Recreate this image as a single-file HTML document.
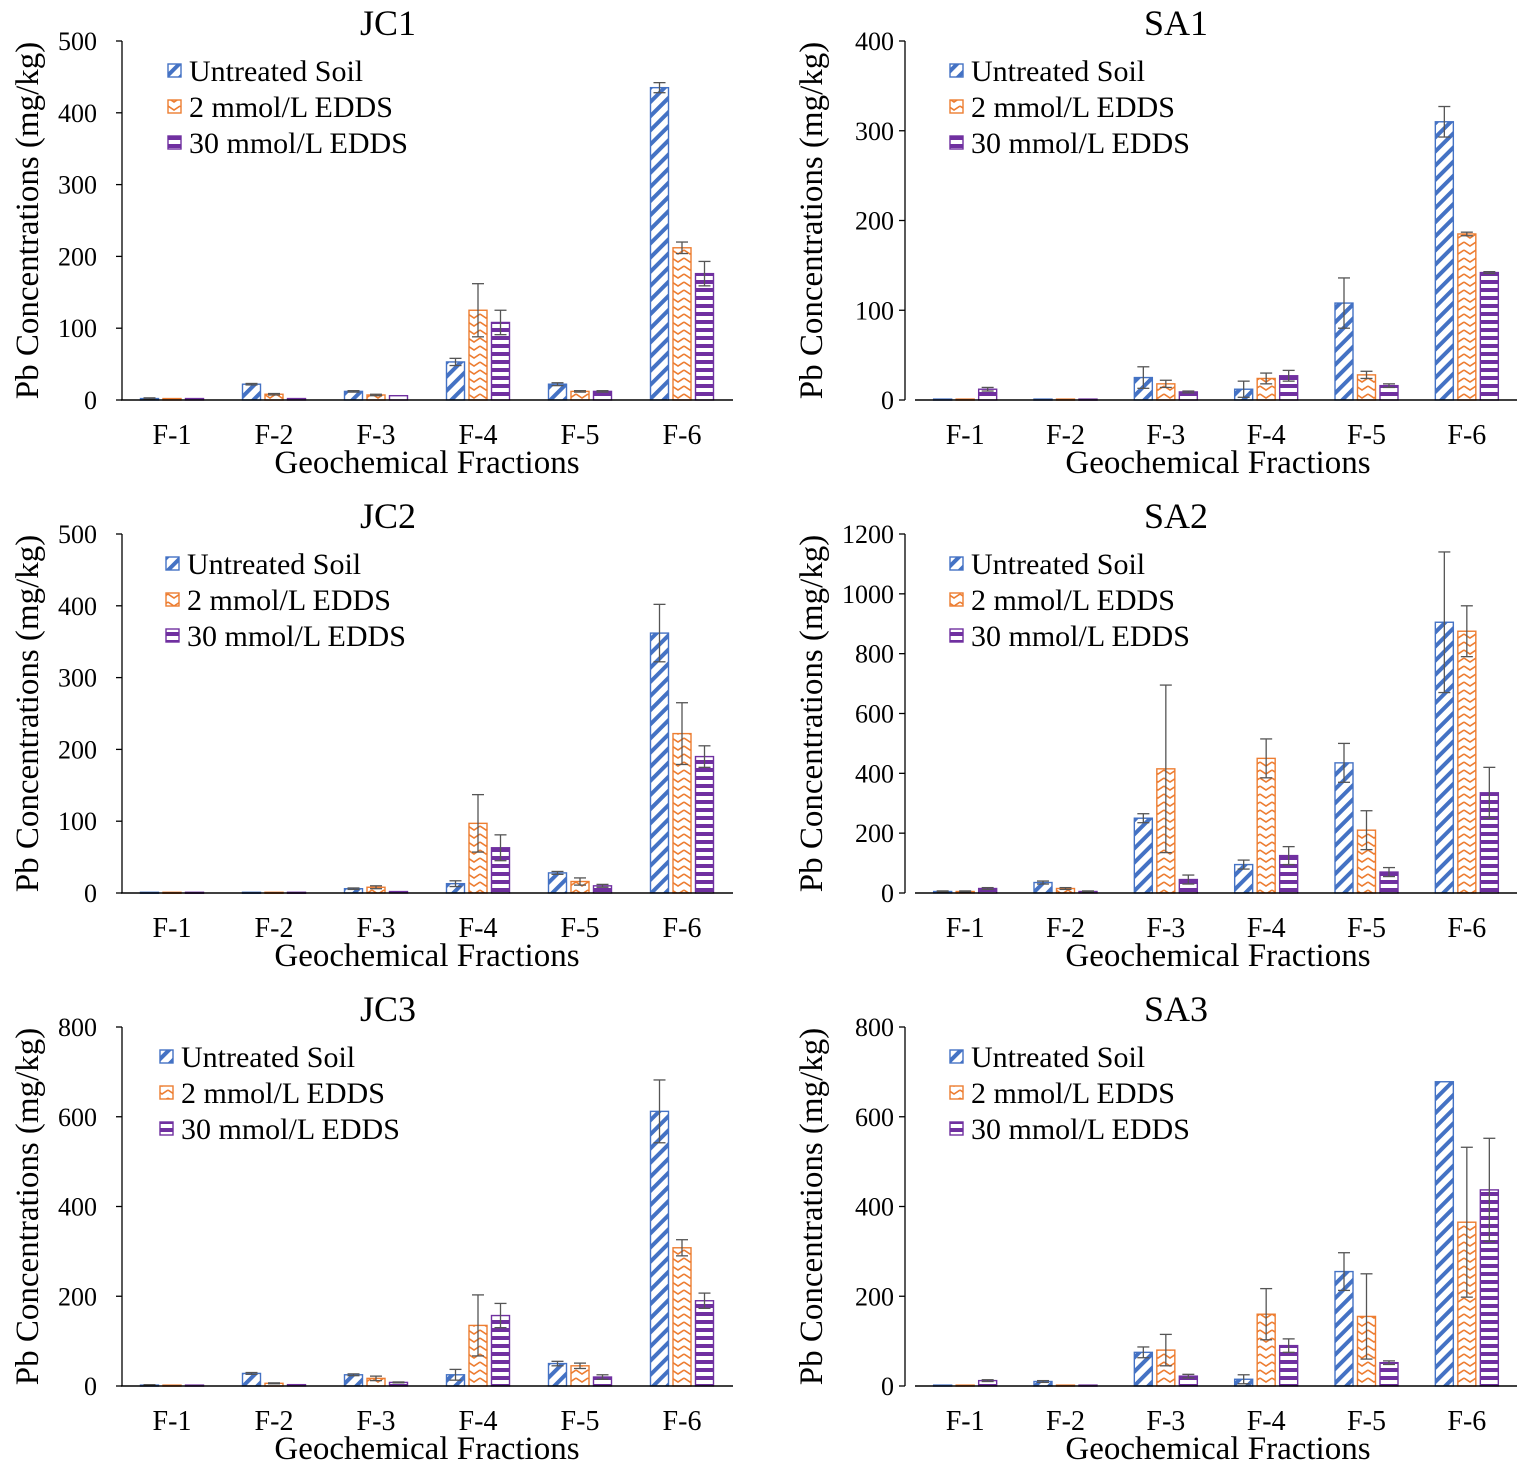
<!DOCTYPE html>
<html><head><meta charset="utf-8"><style>
html,body{margin:0;padding:0;background:#fff;}
svg{display:block;font-family:"Liberation Serif",serif;}
</style></head><body>
<svg id="chart" width="1535" height="1478" viewBox="0 0 1535 1478" xmlns="http://www.w3.org/2000/svg">
<defs>
<pattern id="pU" patternUnits="userSpaceOnUse" width="10" height="10" patternTransform="rotate(45)">
<rect width="10" height="10" fill="#fff"/><rect x="0" y="0" width="4" height="10" fill="#4472C4"/></pattern>
<pattern id="pO" patternUnits="userSpaceOnUse" width="12" height="8">
<rect width="12" height="8" fill="#fff"/><path d="M0,2 L6,6 L12,2" fill="none" stroke="#ED7D31" stroke-width="1.6"/></pattern>
<pattern id="pP" patternUnits="userSpaceOnUse" width="8" height="8">
<rect width="8" height="8" fill="#fff"/><rect x="0" y="0" width="8" height="4" fill="#7030A0"/></pattern>
</defs>
</svg>
<script>
const categories=["F-1","F-2","F-3","F-4","F-5","F-6"];
const seriesNames=["Untreated Soil","2 mmol/L EDDS","30 mmol/L EDDS"];
const panelTitles=["JC1","SA1","JC2","SA2","JC3","SA3"];
const yMaxes=[500,400,500,1200,800,800];
const ySteps=[100,100,100,200,200,200];
const jc1U=[2,22,12,53,22,435], jc1O=[2,8,7,125,12,212], jc1P=[2,2,6,108,12,176];
const jc1Ue=[1,1,1,5,2,7], jc1Oe=[0,1,1,37,1,8], jc1Pe=[0,0,0,17,1,17];
const sa1U=[1,1,25,12,108,310], sa1O=[1,1,18,24,28,185], sa1P=[12,1,9,27,16,142];
const sa1Ue=[0,0,12,9,28,17], sa1Oe=[0,0,4,6,4,2], sa1Pe=[2,0,1,6,2,1];
const jc2U=[1,1,6,13,28,362], jc2O=[1,1,8,97,16,222], jc2P=[1,1,2,63,10,190];
const jc2Ue=[0,0,1,4,2,40], jc2Oe=[0,0,2,40,5,43], jc2Pe=[0,0,0,18,2,15];
const sa2U=[5,35,250,95,435,905], sa2O=[5,15,415,450,210,875], sa2P=[15,5,45,125,70,335];
const sa2Ue=[2,5,15,15,65,235], sa2Oe=[2,3,280,65,65,85], sa2Pe=[3,2,15,30,15,85];
const jc3U=[2,28,25,25,50,612], jc3O=[2,6,17,135,45,308], jc3P=[2,3,8,157,20,190];
const jc3Ue=[1,2,2,12,5,70], jc3Oe=[0,1,5,68,6,18], jc3Pe=[0,0,1,27,5,17];
const sa3U=[2,10,75,15,255,678], sa3O=[2,2,80,160,155,365], sa3P=[12,2,22,90,52,437];
const sa3Ue=[0,2,12,10,42,0], sa3Oe=[0,0,35,57,95,167], sa3Pe=[2,0,4,15,4,115];
const panelValues=[[jc1U,jc1O,jc1P],[sa1U,sa1O,sa1P],[jc2U,jc2O,jc2P],[sa2U,sa2O,sa2P],[jc3U,jc3O,jc3P],[sa3U,sa3O,sa3P]];
const panelErrors=[[jc1Ue,jc1Oe,jc1Pe],[sa1Ue,sa1Oe,sa1Pe],[jc2Ue,jc2Oe,jc2Pe],[sa2Ue,sa2Oe,sa2Pe],[jc3Ue,jc3Oe,jc3Pe],[sa3Ue,sa3Oe,sa3Pe]];

const NS="http://www.w3.org/2000/svg";
const svg=document.getElementById("chart");
const fills=["url(#pU)","url(#pO)","url(#pP)"];
const strokes=["#4472C4","#ED7D31","#7030A0"];
function mk(tag,attrs,parent){const e=document.createElementNS(NS,tag);for(const k in attrs)e.setAttribute(k,attrs[k]);(parent||svg).appendChild(e);return e;}

for(let p=0;p<6;p++){
  const col=p%2,row=Math.floor(p/2);
  const top=41+row*493,bottom=400+row*493;
  const axisX=col?905:122, xs=col?915:121, xe=col?1517:733;
  const step=(xe-xs)/6;
  const g=mk("g",{});
  
  
  const yMax=yMaxes[p];
  const yScale=v=>bottom-(v/yMax)*(bottom-top);
  const xCenter=i=>xs+step*(i+0.5);
  const t=mk("text",{x:col?1176:388,y:top-6,"text-anchor":"middle","font-size":36,fill:"#000"},g);
  t.textContent=panelTitles[p];
  
  
  const ya=mk("line",{x1:axisX,y1:top,x2:axisX,y2:bottom,stroke:"#000","stroke-width":1.3},g);
  
  
  for(let v=0;v<=yMax;v+=ySteps[p]){
    const y=yScale(v);
    mk("line",{x1:axisX-6,y1:y,x2:axisX,y2:y,stroke:"#000","stroke-width":1.3},g);
    const tl=mk("text",{x:col?894:97,y:y+9,"text-anchor":"end","font-size":26,fill:"#000"},g);
    tl.textContent=v;
    
    
  }
  const yt=mk("text",{transform:`translate(${col?822:38},${(top+bottom)/2}) rotate(-90)`,"text-anchor":"middle","font-size":33,fill:"#000"},g);
  yt.textContent="Pb Concentrations (mg/kg)";
  
  
  for(let s=0;s<3;s++){
    for(let i=0;i<6;i++){
      const v=panelValues[p][s][i], e=panelErrors[p][s][i];
      const cx=xCenter(i)+(s-1)*22.5;
      const y=yScale(v);
      const b=mk("rect",{x:cx-9,y:y,width:18,height:Math.max(bottom-y,1),fill:fills[s],stroke:strokes[s],"stroke-width":1.4},g);
      
      
      if(e>0){
        const y1=yScale(v+e),y2=yScale(Math.max(v-e,0));
        mk("line",{x1:cx,y1:y1,x2:cx,y2:y2,stroke:"#555","stroke-width":1.3},g);
        mk("line",{x1:cx-6,y1:y1,x2:cx+6,y2:y1,stroke:"#555","stroke-width":1.3},g);
        mk("line",{x1:cx-6,y1:y2,x2:cx+6,y2:y2,stroke:"#555","stroke-width":1.3},g);
      }
    }
  }
  const xa=mk("line",{x1:xs,y1:bottom,x2:xe,y2:bottom,stroke:"#000","stroke-width":1.5},g);
  
  
  for(let i=0;i<6;i++){
    const xl=mk("text",{x:xCenter(i),y:bottom+44,"text-anchor":"middle","font-size":28,fill:"#000"},g);
    xl.textContent=categories[i];
    
    
  }
  const xt=mk("text",{x:col?1218:427,y:bottom+73,"text-anchor":"middle","font-size":33,fill:"#000"},g);
  xt.textContent="Geochemical Fractions";
  
  
  const lx=col?950:(row===2?160:(row===1?166:168));
  for(let s=0;s<3;s++){
    const ly=top+30+s*36;
    const sw=mk("rect",{x:lx,y:ly-7,width:13,height:13,fill:fills[s],stroke:strokes[s],"stroke-width":1.4},g);
    
    
    const lt=mk("text",{x:lx+21,y:ly+10,"font-size":30,fill:"#000"},g);
    lt.textContent=seriesNames[s];
    
    
  }
}
</script>
</body></html>
